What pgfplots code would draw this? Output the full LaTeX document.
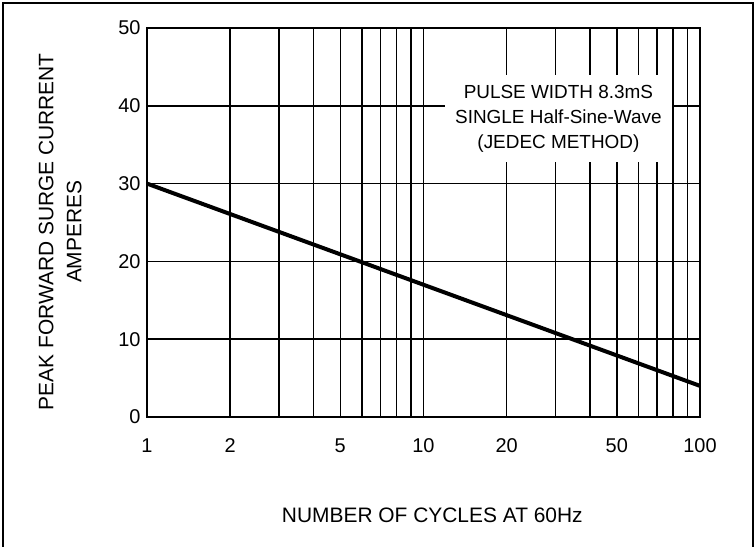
\documentclass[border=0pt]{standalone}
\usepackage{pgfplots}
\pgfplotsset{compat=1.18}
\usepackage{fontspec}
\setmainfont{Liberation Sans}

\begin{document}
\begin{tikzpicture}
\begin{axis}[
	at={(0,0)}, anchor=south west,
	scale only axis,
	width=553bp, height=389bp,
	xmode=log,
	xmin=1, xmax=100,
	ymin=0, ymax=50,
	xtick={1,2,5,10,20,50,100},
	xticklabels={1,2,5,10,20,50,100},
	minor xtick={3,4,6,7,8,9,30,40,60,70,80,90},
	ytick={0,10,20,30,40,50},
	grid=both,
	major grid style={black, line width=1.5bp},
	minor grid style={black, line width=1.5bp},
	axis line style={black, line width=1.5bp},
	major tick length=0pt, minor tick length=0pt,
	/pgf/number format/assume math mode=true,
	tick label style={font=\fontsize{20}{24}\selectfont},
	xticklabel style={yshift=-18bp},
	yticklabel style={xshift=-3bp},
	xlabel={NUMBER OF CYCLES AT 60Hz},
	xlabel style={font=\fontsize{21}{26}\selectfont, at={(axis description cs:0.516,-0.252)}, anchor=center},
	ylabel={PEAK FORWARD SURGE CURRENT\\AMPERES},
	ylabel style={font=\fontsize{21}{28}\selectfont, align=center, at={(axis description cs:-0.157,0.476)}, anchor=center},
	clip=true
]
\addplot[black, line width=4bp] coordinates {(1,30) (100,4)};
\node[fill=white, inner sep=0pt, minimum width=227bp, minimum height=87bp, align=center,
	font=\fontsize{19}{25}\selectfont] at (axis description cs:0.744,0.767)
	{PULSE WIDTH 8.3mS\\SINGLE Half-Sine-Wave\\(JEDEC METHOD)};
\end{axis}
\draw[black, line width=2bp] (-144bp,-130bp) -- (-144bp,414bp) -- (606bp,414bp) -- (606bp,-130bp);
\pgfresetboundingbox
\path[use as bounding box] (-147bp,-130bp) rectangle (608bp,417bp);
\end{tikzpicture}
\end{document}
